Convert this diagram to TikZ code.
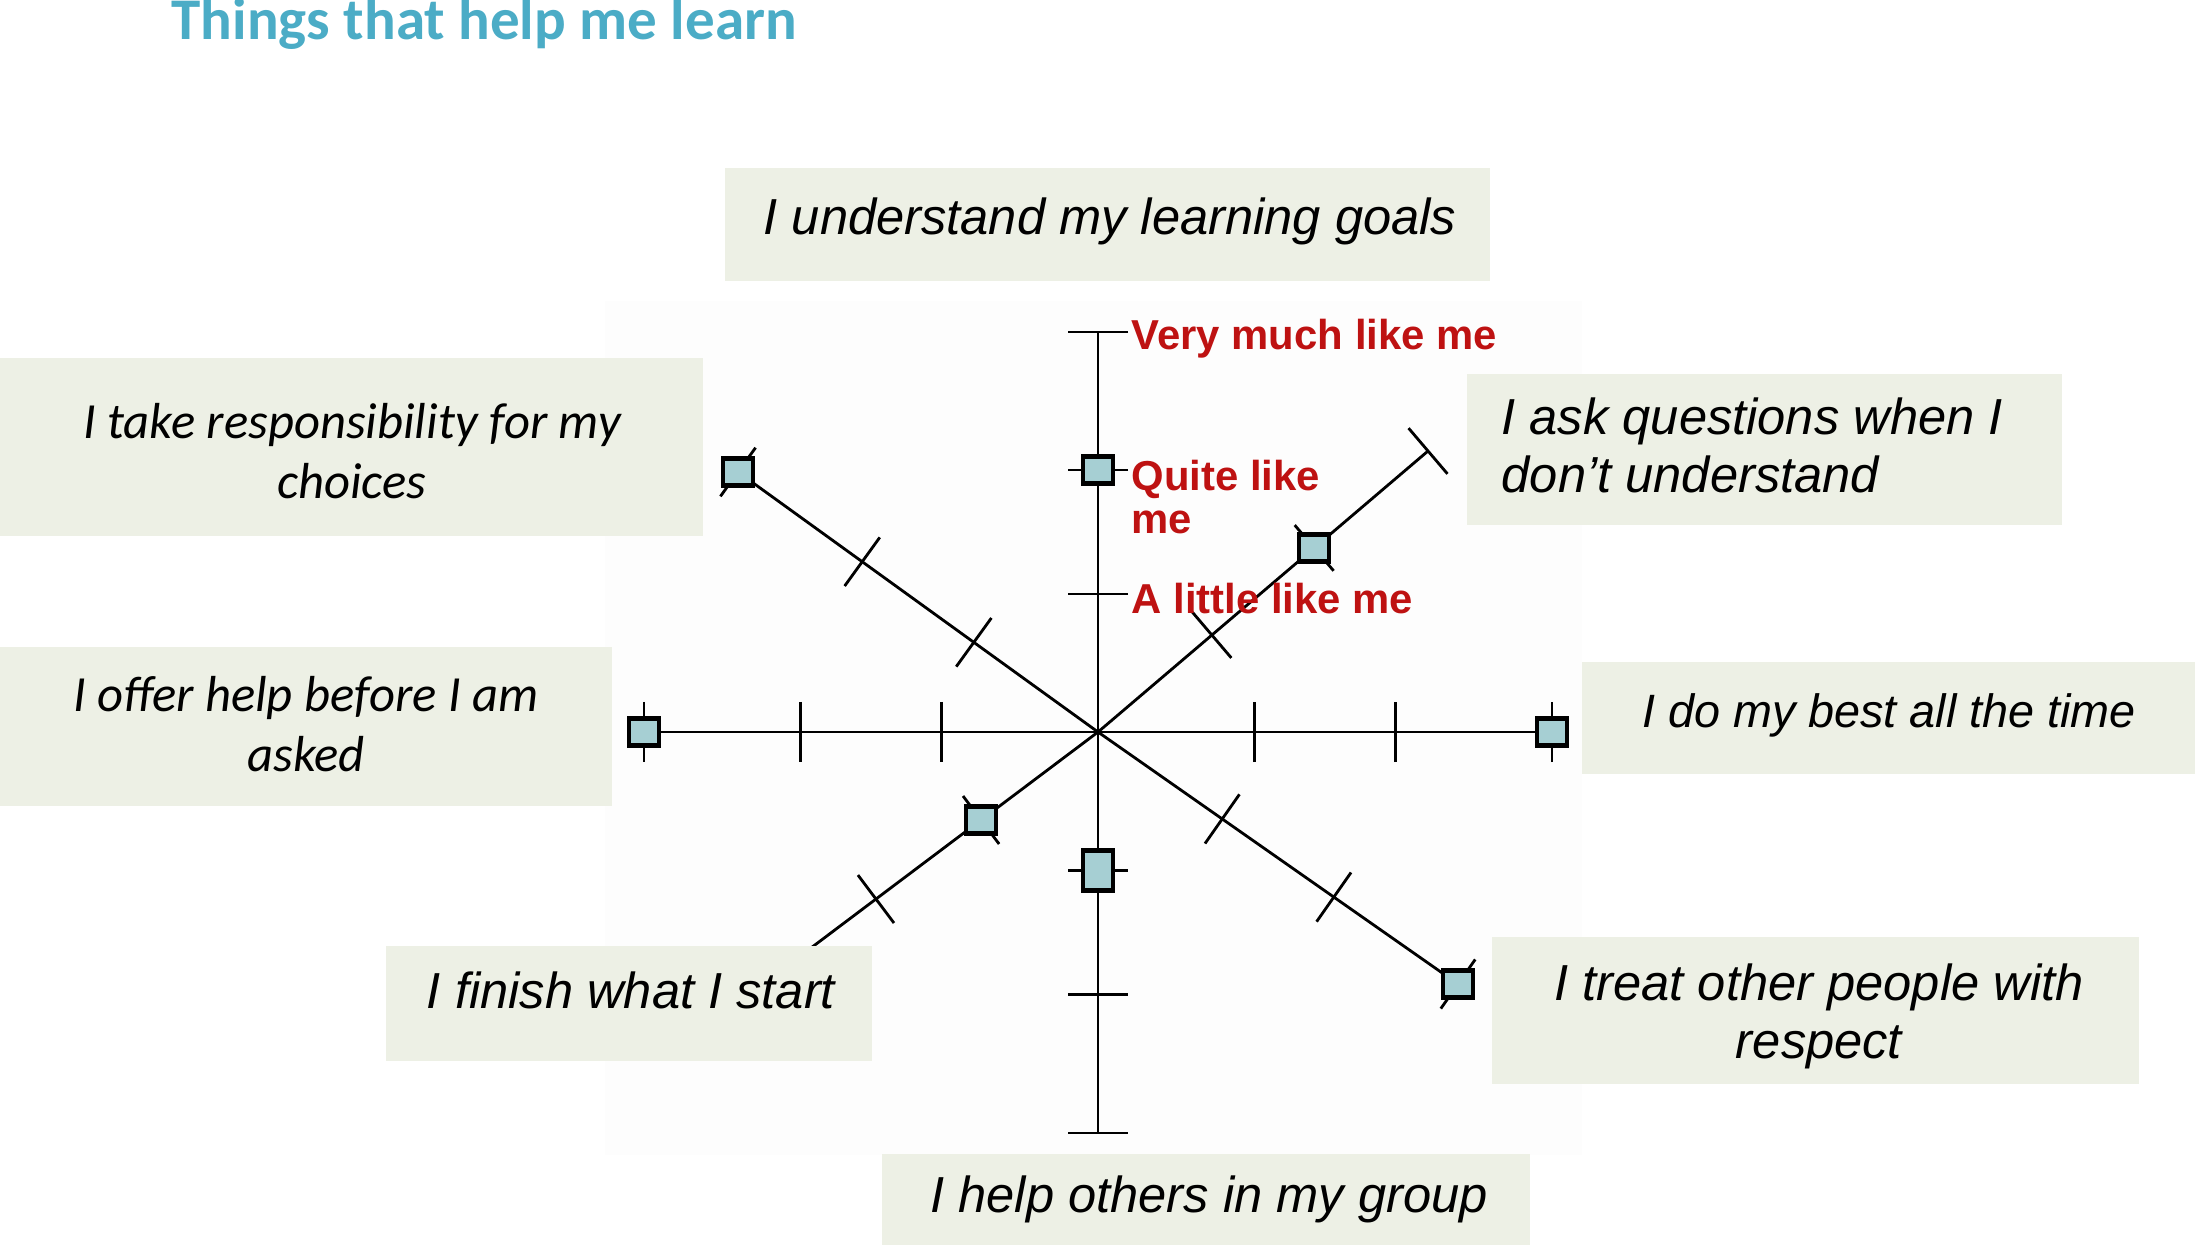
\documentclass[tikz,border=0pt]{standalone}
\usepackage{fontspec}
\setmainfont{Liberation Sans}
\newfontfamily\calfont{Carlito}
\usetikzlibrary{calc}
\definecolor{tagfill}{RGB}{237,240,229}
\definecolor{markfill}{RGB}{166,207,211}
\definecolor{scalered}{RGB}{190,18,18}
\definecolor{titleblue}{RGB}{75,172,198}

\begin{document}
\begin{tikzpicture}[x=0.01cm, y=-0.01cm, spoke/.style={line width=0.8pt},
  markbox/.style={draw, line width=1.3pt, fill=markfill, minimum width=0.3cm,
  minimum height=0.27cm, inner sep=0pt},
  tag/.style={inner sep=0pt, align=center,
  font=\itshape\fontsize{#1}{16.3}\selectfont}, tag/.default=14.4,
  caltag/.style={inner sep=0pt, align=center,
  font=\calfont\itshape\fontsize{14.4}{17}\selectfont},
  scalelabel/.style={anchor=base west, inner sep=0pt, align=left, text=scalered,
  font=\bfseries\fontsize{11.9}{12.2}\selectfont}]
  \useasboundingbox (0,0) rectangle (2195,1245);
  \fill[black!0.8] (605,301) rectangle (1582,1155);

  % the eight spokes, ticks at the three levels
  \coordinate (O) at (1098,732);
  \foreach \name/\x/\y in {n/1098/332, s/1098/1133, e/1552/732, w/644/732,
      nw/738/472, se/1458/984, ne/1428/451, sw/759/987} {
    \coordinate (\name) at (\x,\y);
    \draw[spoke] (O) -- (\name);
    \foreach \k/\f in {1/0.345, 2/0.655, 3/1} {
      \coordinate (\name\k) at ($(O)!\f!(\name)$);
      \draw[spoke] ($(\name\k)!0.3cm!90:(O)$) -- ($(\name\k)!0.3cm!-90:(O)$);
    }
  }

  % answers
  \foreach \p in {nw3, n2, ne2, e3, se3, sw1, w3}
    \node[markbox] (m-\p) at (\p) {};
  \node[markbox, minimum height=0.4cm] (m-s1) at (s1) {};

  \node[scalelabel] (verymuch) at ([xshift=0.33cm, yshift=-0.17cm]n3) {Very much like me};
  \node[scalelabel] (quite) at ([xshift=0.33cm, yshift=-0.63cm]n2) {Quite like\\me};
  \node[scalelabel] (little) at ([xshift=0.33cm, yshift=-0.19cm]n1) {A little like me};

  % statement boxes
  \fill[tagfill] (725,168) rectangle (1490,281);
  \fill[tagfill] (0,358) rectangle (703,536);
  \fill[tagfill] (1467,374) rectangle (2062,525);
  \fill[tagfill] (0,647) rectangle (612,806);
  \fill[tagfill] (1582,662) rectangle (2195,774);
  \fill[tagfill] (386,946) rectangle (872,1061);
  \fill[tagfill] (1492,937) rectangle (2139,1084);
  \fill[tagfill] (882,1154) rectangle (1530,1245);

  \node[tag, anchor=base] (goals) at (1110,234) {I understand my learning goals};
  \node[caltag, anchor=base] (choices) at (352,498) {I take responsibility for my\\choices};
  \node[tag, anchor=base west, align=left] (questions) at (1501,492)
    {I ask questions when I\\don’t understand};
  \node[caltag, anchor=base] (asked) at (306,771) {I offer help before I am\\asked};
  \node[tag=13.3, anchor=base] (best) at (1889,727) {I do my best all the time};
  \node[tag, anchor=base] (finish) at (631,1008) {I finish what I start};
  \node[tag, anchor=base] (respect) at (1819,1058) {I treat other people with\\respect};
  \node[tag, anchor=base] (group) at (1209,1212) {I help others in my group};

  \node[anchor=base west, inner sep=0pt, text=titleblue,
    font=\calfont\bfseries\fontsize{16.8}{20}\selectfont] (title) at (171,39)
    {Things that help me learn};
\end{tikzpicture}
\end{document}
